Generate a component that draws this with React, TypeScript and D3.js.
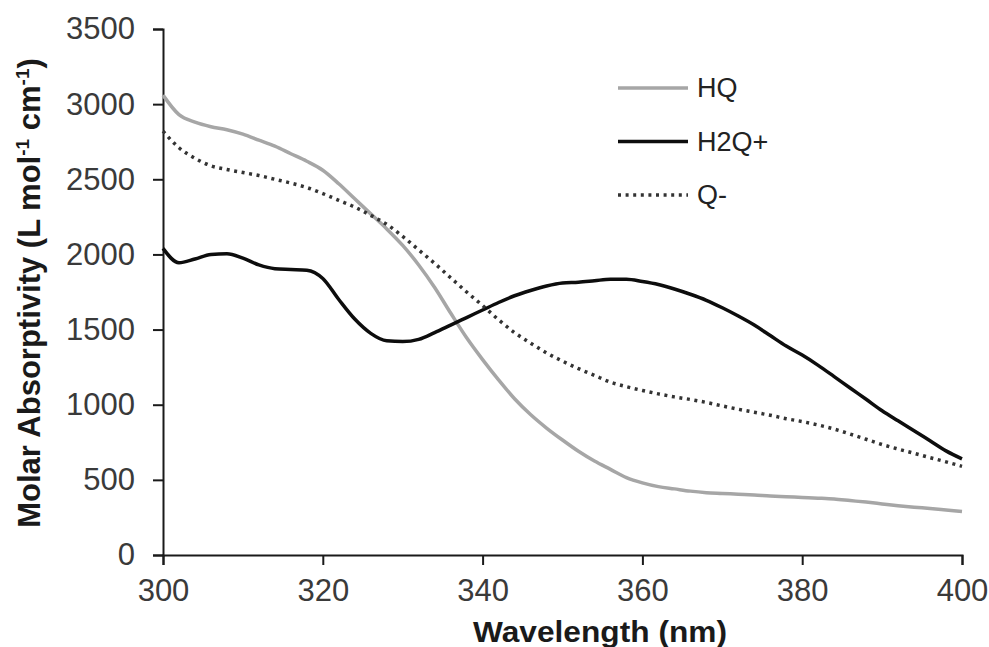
import React from 'react';
import * as d3 from "d3";

// wavelength grid (nm), 2 nm steps
const wavelengths = d3.range(300, 401, 2);

// values, L mol-1 cm-1
const hqValues = [
    3060, 2930, 2880, 2850, 2830, 2800, 2760, 2720, 2670, 2620,
    2560, 2470, 2370, 2270, 2170, 2060, 1930, 1780, 1610, 1445,
    1300, 1165, 1040, 935, 845, 765, 690, 625, 570, 515,
    480, 455, 440, 425, 415, 410, 405, 400, 393, 388,
    383, 378, 372, 362, 352, 340, 328, 318, 310, 300,
    290,
];
const h2qValues = [
    2040, 1945, 1970, 2000, 2005, 1975, 1930, 1905, 1900, 1895,
    1840, 1700, 1570, 1475, 1425, 1420, 1435, 1480, 1530, 1580,
    1630, 1680, 1725, 1760, 1790, 1810, 1815, 1825, 1835, 1835,
    1820, 1800, 1770, 1735, 1695, 1645, 1590, 1530, 1460, 1390,
    1330, 1262, 1187, 1111, 1036, 960, 893, 827, 760, 693,
    640,
];
const qValues = [
    2820, 2710, 2640, 2590, 2565, 2545, 2525, 2500, 2475, 2445,
    2405, 2360, 2315, 2260, 2200, 2120, 2030, 1940, 1845, 1750,
    1660, 1565, 1480, 1410, 1345, 1290, 1240, 1195, 1150, 1120,
    1095, 1072, 1052, 1035, 1015, 992, 970, 950, 930, 907,
    888, 865, 838, 805, 770, 735, 705, 677, 648, 620,
    590,
];

const seriesNames = ["HQ", "H2Q+", "Q-"];
const xTicks = [300, 320, 340, 360, 380, 400];
const yTicks = [0, 500, 1000, 1500, 2000, 2500, 3000, 3500];

const width = 989;
const height = 647;

const styles: {[k: string]: {stroke: string, dash: string | null}} = {
    "HQ": {stroke: "#a6a6a6", dash: null},
    "H2Q+": {stroke: "#0d0d0d", dash: null},
    "Q-": {stroke: "#333333", dash: "3,4.6"},
};

const App = () => {
    const svgRef = React.useRef<SVGSVGElement>(null);

    React.useEffect(() => {
        const xScale = d3.scaleLinear().domain([300, 400]).range([163, 962]);
        const yScale = d3.scaleLinear().domain([0, 3500]).range([555, 29]);

        const svg = d3.select(svgRef.current);
        const chart = svg.append("g");

        const font = "'Liberation Sans', Arial, sans-serif";

        // y axis
        const yAxis = chart.append("g")
            .attr("transform", "translate(163,0)")
            .call(d3.axisLeft(yScale).tickValues(yTicks).tickSize(10).tickPadding(18).tickFormat(d3.format("d")));
        yAxis.select(".domain").attr("stroke", "#1a1a1a").attr("stroke-width", 2);
        yAxis.selectAll(".tick line").attr("stroke", "#1a1a1a").attr("stroke-width", 2);
        yAxis.selectAll("text")
            .attr("font-family", font)
            .attr("font-size", 31)
            .attr("fill", "#3a3a3a");

        // x axis
        const xAxis = chart.append("g")
            .attr("transform", "translate(0,555)")
            .call(d3.axisBottom(xScale).tickValues(xTicks).tickSize(10).tickPadding(14).tickFormat(d3.format("d")));
        xAxis.select(".domain").attr("stroke", "#1a1a1a").attr("stroke-width", 2);
        xAxis.selectAll(".tick line").attr("stroke", "#1a1a1a").attr("stroke-width", 2);
        xAxis.selectAll("text")
            .attr("font-family", font)
            .attr("font-size", 31)
            .attr("fill", "#3a3a3a");

        // titles
        chart.append("text")
            .attr("x", 600)
            .attr("y", 642)
            .attr("text-anchor", "middle")
            .attr("font-family", font)
            .attr("font-weight", "bold")
            .attr("font-size", 29)
            .attr("fill", "#1a1a1a")
            .attr("textLength", 254)
            .attr("lengthAdjust", "spacingAndGlyphs")
            .text("Wavelength (nm)");

        const yTitle = chart.append("text")
            .attr("transform", "translate(40,293) rotate(-90)")
            .attr("text-anchor", "middle")
            .attr("font-family", font)
            .attr("font-weight", "bold")
            .attr("font-size", 31)
            .attr("fill", "#1a1a1a");
        yTitle.append("tspan").text("Molar Absorptivity (L mol");
        yTitle.append("tspan").attr("font-size", 19).attr("dy", -11).text("-1");
        yTitle.append("tspan").attr("dy", 11).text(" cm");
        yTitle.append("tspan").attr("font-size", 19).attr("dy", -11).text("-1");
        yTitle.append("tspan").attr("dy", 11).text(")");

        // lines
        const series = [
            {name: seriesNames[0], values: hqValues},
            {name: seriesNames[1], values: h2qValues},
            {name: seriesNames[2], values: qValues},
        ];

        const line = d3.line<number>()
            .x((d, i) => xScale(wavelengths[i]))
            .y(d => yScale(d))
            .curve(d3.curveMonotoneX);

        chart.selectAll(".series")
            .data(series)
            .enter()
            .append("path")
            .attr("fill", "none")
            .attr("stroke", d => styles[d.name].stroke)
            .attr("stroke-width", 3.5)
            .attr("stroke-dasharray", d => styles[d.name].dash)
            .attr("stroke-linejoin", "round")
            .attr("d", d => line(d.values));

        // legend
        const legend = chart.selectAll(".legend")
            .data(series)
            .enter()
            .append("g")
            .attr("transform", (d, i) => "translate(618," + (88 + i * 53.5) + ")");
        legend.append("line")
            .attr("x1", 0)
            .attr("x2", 70)
            .attr("stroke", d => styles[d.name].stroke)
            .attr("stroke-width", 3.5)
            .attr("stroke-dasharray", d => styles[d.name].dash);
        legend.append("text")
            .attr("x", 79)
            .attr("dy", "0.35em")
            .attr("font-family", font)
            .attr("font-size", 27)
            .attr("fill", "#222")
            .text(d => d.name);

        return () => {
            chart.remove();
        };
    }, []);

    return (
        <div style={{position: "absolute", top: 0, left: 0, background: "white"}}>
            <svg ref={svgRef} width={width} height={height} style={{display: "block"}}></svg>
        </div>
    );
};

export default App;
